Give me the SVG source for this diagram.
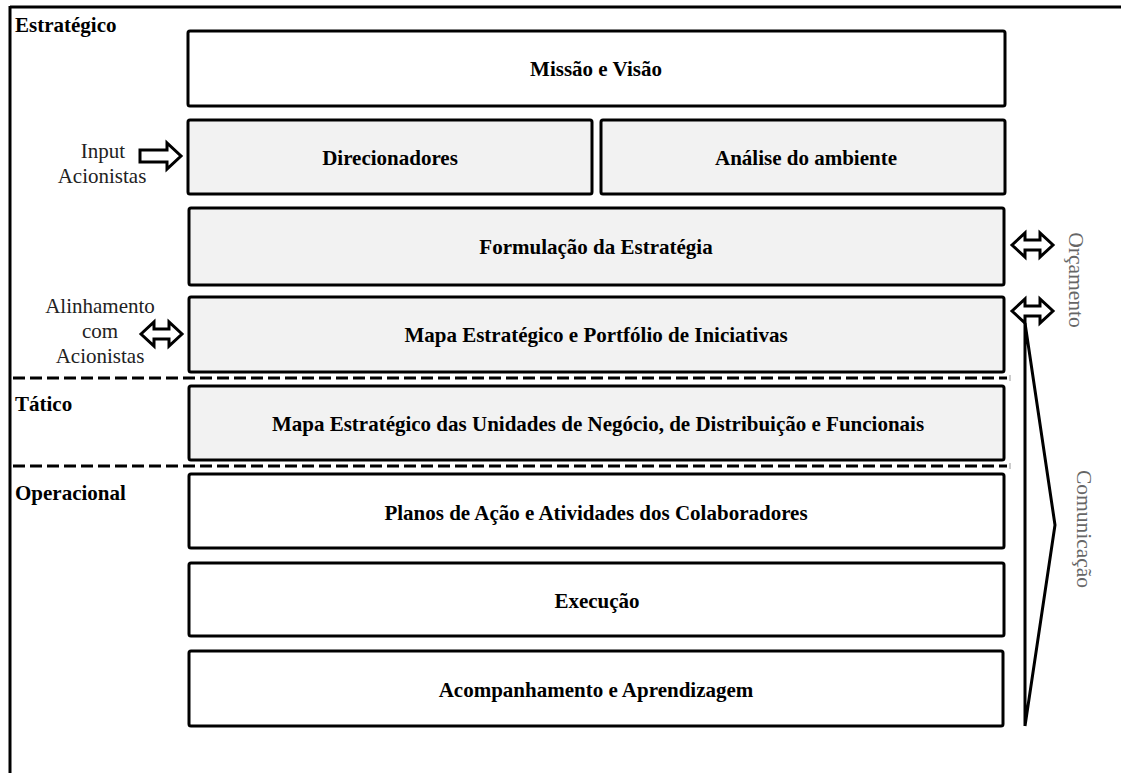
<svg xmlns="http://www.w3.org/2000/svg" width="1121" height="773" viewBox="0 0 1121 773">
<style>
.box{stroke:#000;stroke-width:3;}
.w{fill:#fff;}
.g{fill:#f2f2f2;}
.t{font-family:'Liberation Serif','Times New Roman','DejaVu Serif',serif;font-weight:bold;font-size:21px;fill:#000;text-anchor:middle;}
.sec{font-family:'Liberation Serif','Times New Roman','DejaVu Serif',serif;font-weight:bold;font-size:21px;fill:#000;}
.side{font-family:'Liberation Serif','Times New Roman','DejaVu Serif',serif;font-size:21px;fill:#222;text-anchor:middle;}
.vert{font-family:'Liberation Serif','Times New Roman','DejaVu Serif',serif;font-size:21.5px;fill:#666;text-anchor:middle;}
.arr{fill:#fff;stroke:#000;stroke-width:3;stroke-linejoin:miter;}
.dash{stroke:#000;stroke-width:3;stroke-dasharray:12 5;fill:none;}
</style>
<rect width="1121" height="773" fill="#fff"/>
<g id="frame">
<line x1="10" y1="7" x2="1121" y2="7" stroke="#000" stroke-width="3"/>
<line x1="10" y1="6" x2="10" y2="773" stroke="#000" stroke-width="3"/>
</g>
<g id="labels">
<text class="sec" x="15" y="32">Estratégico</text>
<text class="sec" x="15" y="411">Tático</text>
<text class="sec" x="15" y="500">Operacional</text>
</g>
<g id="missao"><rect class="box w" x="188" y="31" width="817" height="75" rx="2"/><text class="t" x="596" y="76">Missão e Visão</text></g>
<g id="direcionadores"><rect class="box g" x="188" y="120" width="404" height="74" rx="2"/><text class="t" x="390" y="165">Direcionadores</text></g>
<g id="analise"><rect class="box g" x="601" y="120" width="404" height="74" rx="2"/><text class="t" x="806" y="165">Análise do ambiente</text></g>
<g id="formulacao"><rect class="box g" x="189" y="208" width="815" height="77" rx="2"/><text class="t" x="596" y="254">Formulação da Estratégia</text></g>
<g id="mapa"><rect class="box g" x="189" y="297" width="815" height="75" rx="2"/><text class="t" x="596" y="342">Mapa Estratégico e Portfólio de Iniciativas</text></g>
<g id="tatico"><rect class="box g" x="189" y="386" width="815" height="74" rx="2"/><text class="t" x="598" y="431">Mapa Estratégico das Unidades de Negócio,  de Distribuição e Funcionais</text></g>
<g id="planos"><rect class="box w" x="189" y="474" width="815" height="74" rx="2"/><text class="t" x="596" y="520">Planos de Ação e Atividades dos Colaboradores</text></g>
<g id="execucao"><rect class="box w" x="189" y="563" width="815" height="73" rx="2"/><text class="t" x="597" y="608">Execução</text></g>
<g id="acompanhamento"><rect class="box w" x="189" y="651" width="814" height="75" rx="2"/><text class="t" x="596" y="697">Acompanhamento e Aprendizagem</text></g>
<g id="connectors">
<line class="dash" x1="13" y1="378" x2="1007" y2="378"/>
<line x1="1010" y1="375" x2="1010" y2="381" stroke="#999" stroke-width="1"/>
<line class="dash" x1="13" y1="466" x2="1007" y2="466"/>
<line x1="1010" y1="463" x2="1010" y2="469" stroke="#999" stroke-width="1"/>
<path class="arr" d="M140,150 L167,150 L167,143 L181,156 L167,169 L167,162 L140,162 Z"/>
<path class="arr" d="M141,334 L154,322 L154,329 L169,329 L169,322 L182,334 L169,346 L169,339 L154,339 L154,346 Z"/>
<path class="arr" d="M1012,245 L1025,233 L1025,240 L1040,240 L1040,233 L1053,245 L1040,257 L1040,250 L1025,250 L1025,257 Z"/>
<path class="arr" d="M1012,311 L1025,299 L1025,306 L1040,306 L1040,299 L1053,311 L1040,323 L1040,316 L1025,316 L1025,323 Z"/>
<path d="M1025,323 L1025,726 M1025,323 L1055,525 L1025,726" fill="none" stroke="#000" stroke-width="3" stroke-linejoin="miter"/>
</g>
<g id="sidetext">
<text class="side" x="103" y="158">Input</text>
<text class="side" x="102" y="183">Acionistas</text>
<text class="side" x="100" y="313">Alinhamento</text>
<text class="side" x="100" y="338">com</text>
<text class="side" x="100" y="363">Acionistas</text>
<text class="vert" transform="translate(1069,280) rotate(90)">Orçamento</text>
<text class="vert" transform="translate(1077,529) rotate(90)">Comunicação</text>
</g>
</svg>
